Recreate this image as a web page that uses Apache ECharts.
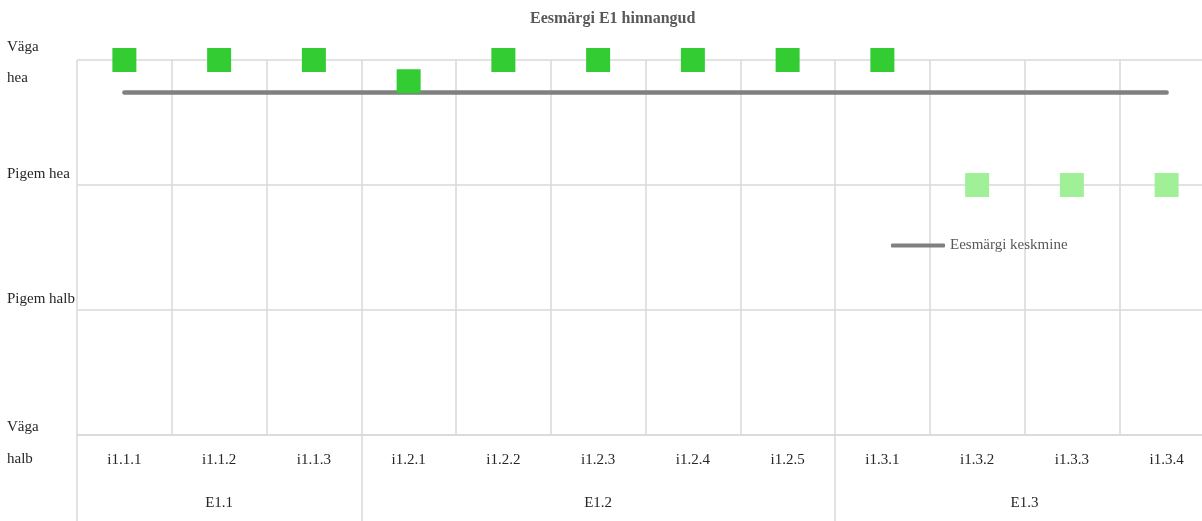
<!DOCTYPE html>
<html>
<head>
<meta charset="utf-8">
<script src="https://cdn.jsdelivr.net/npm/echarts@6/dist/echarts.min.js"></script>
<style>
html,body{margin:0;padding:0;background:#fff;overflow:hidden;width:1202px;height:521px;}
#chart{width:1217px;height:521px;}
</style>
</head>
<body>
<div id="chart"></div>
<script>
const categories = ['i1.1.1','i1.1.2','i1.1.3','i1.2.1','i1.2.2','i1.2.3','i1.2.4','i1.2.5','i1.3.1','i1.3.2','i1.3.3','i1.3.4'];
const groups = ['E1.1','E1.2','E1.3'];
const groupSizes = [3,5,4];
const levelLabels = ['Väga halb','Pigem halb','Pigem hea','Väga hea'];
const strongScores = [4,4,4,3.83,4,4,4,4,4,null,null,null];
const weakScores = [null,null,null,null,null,null,null,null,null,3,3,3];
const goalMean = [3.74,3.74,3.74,3.74,3.74,3.74,3.74,3.74,3.74,3.74,3.74,3.74];
const titleText = 'Eesmärgi E1 hinnangud';
const legendText = 'Eesmärgi keskmine';

const FONT = 'Liberation Serif';
const GRID = '#d9d9d9';

// group axis built on half-column slots
const halfSlots = [];
const groupLabelAt = {};
const groupTickAt = {0:true};
let start = 0;
groups.forEach((g,i)=>{
  const end = start + groupSizes[i];
  groupLabelAt[start + end] = g; // center in half units
  groupTickAt[end*2] = true;
  start = end;
});
for (let k=0;k<=categories.length*2;k++) halfSlots.push(groupLabelAt[k] || '');

const chart = echarts.init(document.getElementById('chart'));
chart.setOption({
  animation:false,
  title:{
    text:titleText, left:525, top:6,
    textStyle:{fontFamily:FONT,fontSize:16,fontWeight:'bold',color:'#595959'}
  },
  legend:{
    data:[{name:legendText, icon:'roundRect'}], left:886, top:233,
    itemWidth:54, itemHeight:4, itemGap:5,
    textStyle:{fontFamily:FONT,fontSize:15,color:'#595959'}
  },
  grid:{left:77, top:60, bottom:86, right:0},
  xAxis:[{
    type:'category', data:categories, boundaryGap:true,
    axisLine:{show:true,lineStyle:{color:GRID,width:1.5}},
    axisTick:{show:false},
    splitLine:{show:true,interval:0,lineStyle:{color:GRID,width:1.5}},
    axisLabel:{interval:0,margin:18,fontFamily:FONT,fontSize:15,color:'#262626'}
  },{
    type:'category', data:halfSlots, boundaryGap:false, position:'bottom',
    axisLine:{show:false},
    axisTick:{show:true,length:86,interval:(i)=>!!groupTickAt[i],lineStyle:{color:GRID,width:1.5}},
    splitLine:{show:false},
    axisLabel:{interval:0,margin:61,fontFamily:FONT,fontSize:15,color:'#262626'}
  }],
  yAxis:{
    type:'value', min:1, max:4, interval:1,
    axisLine:{show:false}, axisTick:{show:false},
    splitLine:{show:true,lineStyle:{color:GRID,width:1.5}},
    axisLabel:{
      align:'left', margin:70, fontFamily:FONT, fontSize:15, color:'#262626',
      formatter:(v)=>{
        const t = levelLabels[Math.round(v)-1];
        if (v===4) return '{t4|' + t.replace(' ','\n') + '}';
        if (v===1) return '{t1|' + t.replace(' ','\n') + '}';
        return '{tm|' + t + '}';
      },
      rich:{
        t4:{lineHeight:31,padding:[5,0,0,0],fontFamily:FONT,fontSize:15,color:'#262626',align:'left'},
        t1:{lineHeight:32,padding:[16,0,0,0],fontFamily:FONT,fontSize:15,color:'#262626',align:'left'},
        tm:{lineHeight:20,padding:[0,0,22,0],fontFamily:FONT,fontSize:15,color:'#262626',align:'left'}
      }
    }
  },
  series:[{
    name:legendText, type:'line', data:goalMean, symbol:'none',
    lineStyle:{color:'#808080',width:4.5,cap:'round'}, itemStyle:{color:'#808080'}, z:2
  },{
    name:'strong', type:'scatter', data:strongScores, symbol:'rect', symbolSize:24,
    itemStyle:{color:'#33cc33',opacity:1}, z:3
  },{
    name:'weak', type:'scatter', data:weakScores, symbol:'rect', symbolSize:24,
    itemStyle:{color:'#a0f098',opacity:1}, z:3
  }]
});
</script>
</body>
</html>
